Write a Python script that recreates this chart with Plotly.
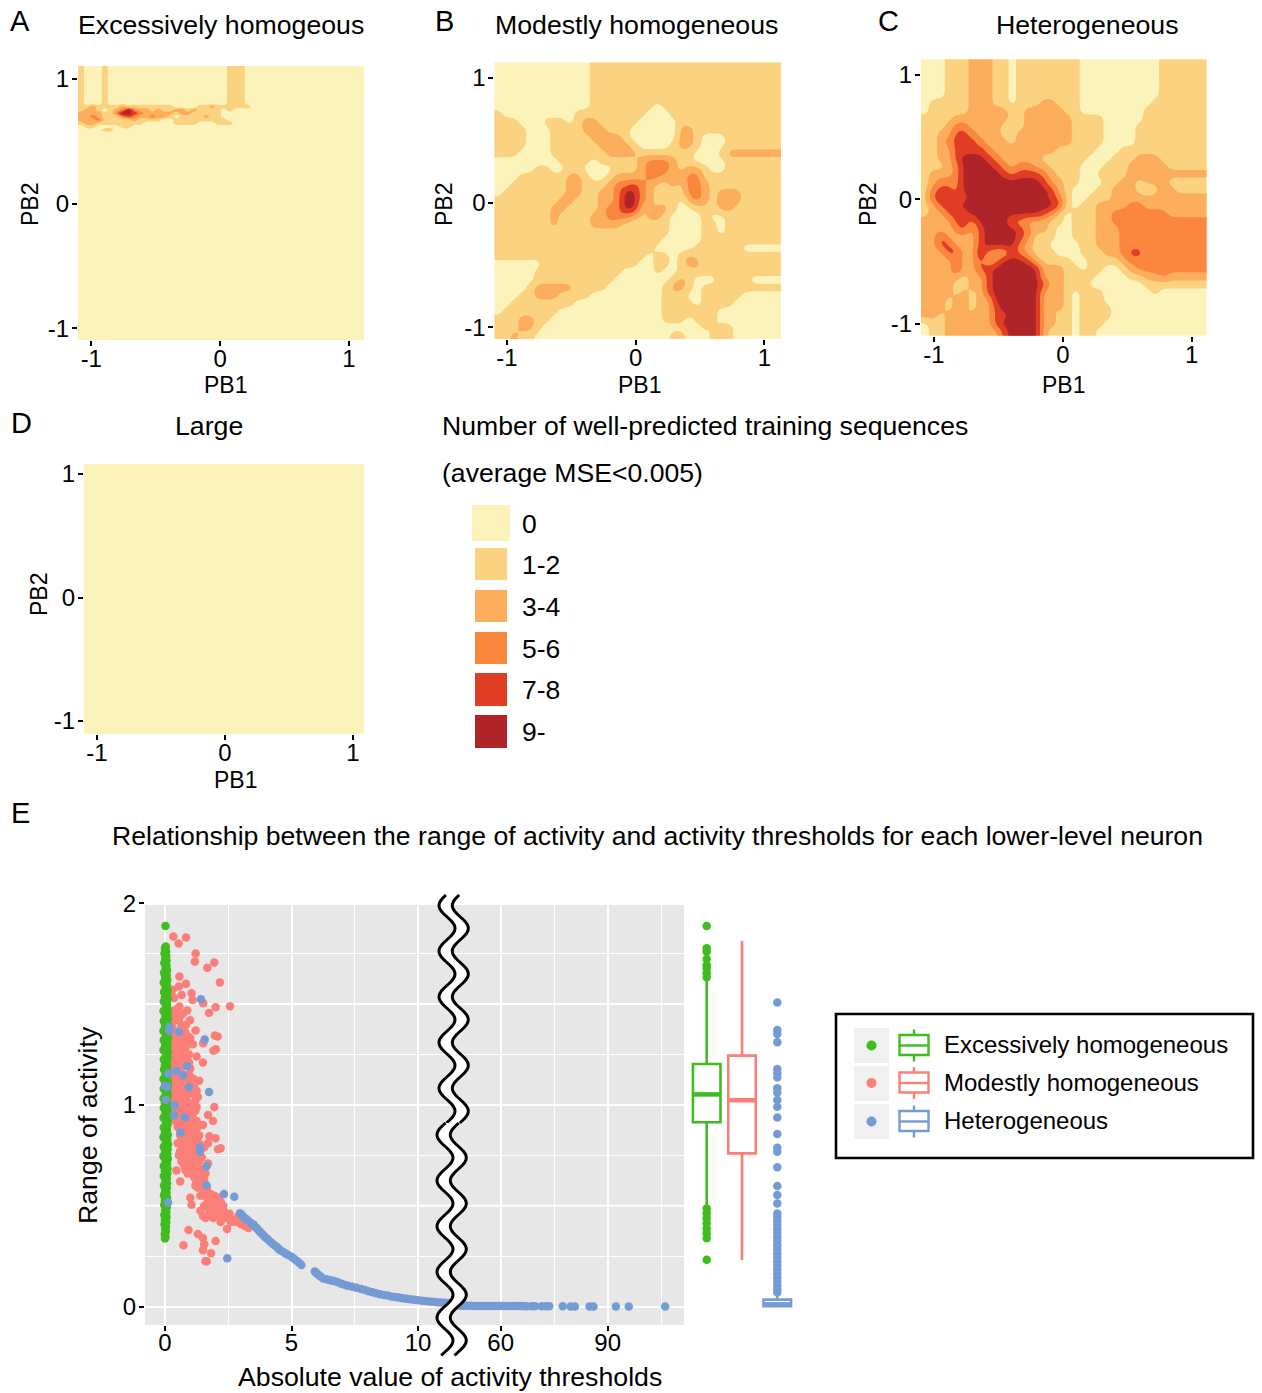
import numpy as np
import plotly.graph_objects as go

W, H = 1262, 1393
FONT = "Liberation Sans"
LEVEL_COLORS = ["#FCF3BB", "#FBD27F", "#FCAE5C", "#FB863D", "#E13C24", "#AF2429"]
LEVEL_LABELS = ["0", "1-2", "3-4", "5-6", "7-8", "9-"]
GREEN, SALMON, BLUE = "#3FBC1E", "#FB7F78", "#749BD3"
GROUP_NAMES = ["Excessively homogeneous", "Modestly homogeneous", "Heterogeneous"]

# Panel A: level map (rows top to bottom), PB2 value of each row
A_PB2 = [1.104, .833, .806, .779, .752, .726, .699, .672, .645, .618, .592, .565, -1.093]
A_ROWS = [
    "100010000000000000000000011100",
    "100010000000000000000000011100",
    "100010000000000000000000011100",
    "112111121111111100001121111110",
    "122101235322121122121111010000",
    "222211355432222212211111000000",
    "223211134322322101111211000000",
    "222311111211110011111111100000",
    "122111111110000011110001110000",
    "011000011000000000000000000000",
    "000011000000000000000000000000",
    "000000000000000000000000000000",
    "000000000000000000000000000000",
]
A_COLS = 48

B_ROWS = [
    "000000000000 111111111111111111111111",
    "000000000000 111111111111111111111111",
    "000000000000 111111111111111111111111",
    "000000000000 111111111111111111111111",
    "000000000000 111111111111111111111111",
    "000000000000 11111111 0 111111111111111",
    "1000000000 111111111 000 1 2 111111111111",
    "111000 111 0 1 22 11111 00000 1111111111111",
    "1111 00 0 1111 222 111 000000 22 11111111111",
    "1111 000 11 2 11 2222 1 000000 22 1 000 1111111",
    "1111 000 1111 11 2222 1 0000 1 22 1 000 1111111",
    "111 0000 1111111 2222 1111111 000 1 2222222",
    "00000000 1111 0 11111 23332 11 0000 1111111",
    "00000 11 00 11 0000 111 23332 1 22 1 00 1111111",
    "000 111111 22 1 00 1 2222 33 222 33 1111111111",
    "00 1111111 22 11 1 233432 11 21 332 111111111",
    "0 11111111 22 11 2235532 1111 3321 222 11111",
    "11111111 22 11 1 2235532 111 0 2321 222 11111",
    "1111111 22 1111 2335521221 00 111 22 111111",
    "1111111 2 1111 2233321221 0000 1 00 1111111",
    "1111111 2 1111 2222 111111 0000 11 0 1111111",
    "1111111111111111111111 0000 11 0 1111111",
    "111111111111111111111 00000 1111111111",
    "11111111111111111111 00000 111111 00000",
    "111111 1111111111111 0 11 0 121 1111111111",
    "000000 111111111111 00 11 0 122 1111111111",
    "00000 11111111111 0000 1 00 11111 11111111",
    "00000 1111111111 000000 0 121 000 1111 0000",
    "0000 1 22222 1111 0000000 1221 0 1111111111",
    "000 11 222 1111 000000000 111 00 11111 00000",
    "00 11111111 00000000000 1111 0 1111 000000",
    "0 1111111 0000000000000 1111111 00000000",
    "1112211 00000000000000 111 0 111 00000000",
    "111221 00000000000000000000 1 0 11 000000",
    "11211 00000000000000000 11 000 111 000000",
]

C_ROWS = [
    "000 111 222 11 0 11111111 0000000000 111111",
    "000 111 222 11 0 11111111 0000000000 111111",
    "000 111 222 11 0 11111111 0000000000 111111",
    "000 111 222 11 0 11111111 0000000000 111111",
    "000 111 222 11 0 11111111 0000000000 111111",
    "0 11111 222 11 0 111 22 111 000000000 1111111",
    "0 11111 222 22 11 22222 11 00000000 11111111",
    "1111 22222 22 11 222222 1 111 00000 11111111",
    "111 2 33 2222 111 222222 1111 0000 111111111",
    "11 22 44 3 222 11 2222222 1111 0000 111111111",
    "11 2 3 444 3 2 22 1 2222222 1111 0000 111111111",
    "11 22 4444 3 22222222 11111 000 11111111111",
    "11 22 45 55 4 3 22222 111111 000 111 222 111111",
    "111 2 3 5 55 54 3 2 33 22 1111 000 111 22222 11111",
    "1 222 3 5 555 54 3 444 3 2 111 00 1111 2222222222",
    "1 2 333 5 5555 5 555 54 22 11 000 11 22 1 222 1 1111",
    "1 3 44 3 5 5555 5 5555 5 4 2 1 000 11 222 101 22 1111",
    "1 44444 5555 5 55555 4 3 1 00 111 222 222222222",
    "1 2 444 5 5555 5 555555 4 1 0 11 2222 33 22222222",
    "1 22 444 5555 55 555 4 3 1 0 111 22 3333333 22222",
    "2222 44 3 555 5 33 222 11 0 111 22 333333333333",
    "2222 3 4 2 4 555 54 3 22 1 00 111 222 33333333333",
    "22 4 2222 4 5555 4 3 111 00 111 222 33333333333",
    "22 44 222 4 5555 3 2 11 0000 11 222 33333333333",
    "22 2 44 22 5 3 22 4 3 2 111 000 111 22 3 44 33333333",
    "22 22 3 22 4 2 3 555 4 2 1111 00 1111 2 3333333333",
    "2222 4 2 2 44 55555 5 222 11 0 11 00 1 2 333333333",
    "222 2 2 1 22 4 55555 5 222 1111 0000 11 22 3 22222",
    "222 2 1 1 2 2 4 55555 54 22 111 0000000 11111111",
    "22 2 2 1 2 1 2 4 55555 5 222 1 0 111 000000 1 000000",
    "22 2 1 2 2 1 22 55555 5 222 1 0 111 0000000000000",
    "22 2 1 2 2 1 22 4 5555 5 2 1 2 1 0 1111 000000000000",
    "2 2 1 2 2 1 222 44 555 5 22 11 0 1111 000000000000",
    "0 1 1 2 1 2222 4 5555 5 22 11 0 111 0000000000000",
    "0 1 1 2222222 4 555 52 111 0 11 00000000000000",
]

D_ROWS = ["00", "00"]

# Panel E: scatter values
green_y = [1.887, 1.785, 1.775, 1.762, 1.75, 1.738, 1.727, 1.715, 1.703, 1.69, 1.68, 1.667, 1.655, 1.642, 1.632, 1.62,
           1.607, 1.596, 1.585, 1.572, 1.56, 1.548, 1.536, 1.525, 1.512, 1.5, 1.488, 1.476, 1.465, 1.452, 1.44, 1.428,
           1.416, 1.405, 1.392, 1.38, 1.368, 1.356, 1.345, 1.332, 1.32, 1.308, 1.296, 1.285, 1.272, 1.26, 1.248, 1.236,
           1.225, 1.212, 1.2, 1.188, 1.176, 1.165, 1.152, 1.14, 1.128, 1.116, 1.105, 1.092, 1.08, 1.068, 1.056, 1.045,
           1.032, 1.02, 1.008, .996, .985, .972, .96, .948, .936, .925, .912, .9, .888, .876, .865, .852, .84, .828,
           .816, .805, .792, .78, .768, .756, .745, .732, .72, .708, .696, .685, .672, .66, .648, .636, .625, .612, .6,
           .588, .576, .565, .552, .54, .528, .516, .505, .492, .48, .468, .456, .445, .432, .42, .408, .396, .385,
           .372, .36, .348, .338, .332, .233]
green_x = [.02, .03, .0, .04, -.02, .05, .01, .06, -.03, .06, .02, .08, -.04, .07, .01, .09,
           -.05, .07, .03, .1, -.04, .09, .0, .11, -.05, .08, .04, .11, -.06, .1, .02, .12,
           -.05, .09, .0, .11, -.06, .08, .03, .12, -.05, .1, .01, .09, -.06, .11, .04, .1,
           -.05, .08, .0, .09, -.04, .07, .02, .1, -.06, .11, .01, .12, -.05, .09, .03, .11,
           -.06, .08, .0, .12, -.05, .1, .02, .09, -.06, .11, .04, .1, -.05, .08, .0, .11, -.06, .09,
           .03, .12, -.05, .1, .01, .09, -.06, .11, .02, .08, -.05, .1, .0, .09, -.05, .07, .02,
           .08, -.04, .07, .01, .06, -.04, .08, .0, .06, -.03, .07, .01, .05, -.03, .06, .0, .05, -.02,
           .04, .01, .03, -.01, .02, .0]

salmon_x = [.33, .83, .54, 1.21, 1.18, 1.95, 1.67, .57, 2.17, .83, .55, .3, 1.05, .66, 1.51, 1.09, .36, 2.57, 2.0, 1.74,
            .57, .88, .99, .39, .83, 1.21, 1.97, 2.08, .92, 1.51, 2.01, 1.91,
            .25, .4, .55, .7, .3, .45, .65, .8, 1.0, .3, .5, .7, .85, 1.1, .35, .55, .75, .95, .3, .45, .65, .85, 1.25, 1.5,
            .3, .5, .7, 1.0, .3, .45, .6, .85, 1.35, .35, .55, .75, 1.0, 1.25, .4, .6, .85, 1.15, 1.2, .45, .7, .95, 1.95,
            .45, .65, .9, 1.1, .4, .75, 1.0, 1.25, 1.7, 1.9,
            .5, .7, .95, 1.15, 1.5, .6, .85, 1.05, 1.25, .5, .75, .95, 1.2, 1.75, 2.0, 1.7, .6, .85, 1.05, 1.3, 1.55, 2.1, 2.2,
            .7, .95, 1.2, 1.45, .75, 1.0, 1.25, 1.7, .45, .9, 1.1, 1.35, 1.6,
            .6, 1.25, 1.45, 1.3, 1.55, 1.8, 1.4, 1.65, 1.95, 2.1, 2.2, 1.0, 1.05, 1.7, 1.9, 2.15, 2.35, 1.4, 1.5, 1.6, 1.75,
            1.9, 2.1, 2.4, 2.7, 3.0, 2.9, 3.3, 2.45,
            .93, 1.3, 1.5, 1.55, 2.0, .73, 1.5, 1.82, 1.6, 1.65]
salmon_y = [1.835, 1.83, 1.80, 1.75, 1.71, 1.706, 1.68, 1.636, 1.607, 1.60, 1.587, 1.57, 1.553, 1.545, 1.504, 1.52, 1.53, 1.489, 1.484, 1.455,
            1.488, 1.468, 1.42, 1.418, 1.397, 1.369, 1.344, 1.339, 1.339, 1.306, 1.276, 1.268,
            1.45, 1.47, 1.42, 1.45, 1.38, 1.36, 1.39, 1.36, 1.33, 1.32, 1.31, 1.33, 1.30, 1.30, 1.27, 1.26, 1.27, 1.25, 1.23, 1.21, 1.23, 1.24, 1.24, 1.21,
            1.18, 1.17, 1.19, 1.18, 1.13, 1.12, 1.13, 1.13, 1.12, 1.08, 1.09, 1.08, 1.10, 1.07, 1.04, 1.03, 1.04, 1.05, 1.02, 1.0, .99, 1.01, .99,
            .96, .95, .97, .96, .92, .93, .93, .92, .95, .92,
            .89, .89, .90, .88, .90, .85, .86, .85, .85, .81, .82, .81, .81, .845, .835, .81, .77, .78, .77, .77, .79, .78, .785,
            .73, .74, .73, .74, .70, .70, .70, .71, .675, .66, .67, .66, .66,
            .62, .62, .63, .59, .58, .56, .55, .54, .55, .54, .52, .54, .505, .51, .50, .48, .47, .475, .45, .44, .475,
            .44, .46, .44, .43, .41, .45, .39, .385,
            .38, .36, .34, .31, .325, .305, .28, .265, .225, .225]
salmon_dense_x = [.28, .42, .6, .35, .55, .75, .28, .42, .62, .8, .25, .4, .55, .75, .95, .25, .38, .6, .8, .4, .55, .72, .95, 1.12,
                  .28, .42, .65, .9, 1.15, .3, .5, .7, .95, 1.3, .35, .55, .8, 1.05, 1.25, .38, .55, .8, 1.0, 1.2, .5, .65, .88, 1.12,
                  1.05, .6, .85, 1.3, .7, .95, 1.15, 1.35, .65, .85, 1.08, 1.3, .7, .95, 1.15, 1.42, .55, .8, 1.05, 1.3, .65, .85, 1.1, 1.35,
                  .8, 1.0, 1.2, 1.45, 1.15, 1.35, 1.55, 1.2, 1.4, 1.65, 1.6, 1.85, 2.0, 2.3, 2.05, 1.55, 1.8, 2.0, 2.25, 2.55, 2.6, 2.2, 2.8, 3.15]
salmon_dense_y = [1.41, 1.43, 1.44, 1.34, 1.34, 1.31, 1.29, 1.28, 1.29, 1.28, 1.25, 1.24, 1.23, 1.23, 1.21, 1.2, 1.19, 1.2, 1.2, 1.15, 1.15, 1.15, 1.15, 1.13,
                  1.1, 1.09, 1.1, 1.09, 1.09, 1.05, 1.06, 1.05, 1.06, 1.04, 1.01, 1.0, 1.01, 1.0, .99, .98, .97, .97, .97, .97, .93, .92, .93, .93,
                  .9, .9, .9, .89, .86, .87, .85, .85, .82, .82, .83, .82, .79, .79, .79, .8, .75, .75, .75, .75, .72, .71, .72, .72,
                  .68, .67, .68, .68, .64, .64, .63, .6, .6, .59, .56, .53, .52, .5, .49, .5, .47, .45, .45, .46, .42, .42, .42, .4]

blue_x = [1.42, .17, .17, .55, 1.57, .88, .45, .14, .72, 0, .09, .95, 1.74, .03, .38, .36, .79, .61, 1.38, 1.39, 1.64, 1.64,
          2.33, 2.74, .12, 2.46,
          2.96, 3.02, 3.08, 3.16, 3.23, 3.3, 3.4, 3.49, 3.55, 3.62, 3.68, 3.75, 3.82, 3.88, 3.96, 4.05, 4.13, 4.21, 4.3, 4.4, 4.47, 4.54, 4.65,
          4.75, 4.87, 5.0, 5.1, 5.2, 5.3, 5.39, 5.92, 5.98, 6.05, 6.15, 6.25, 6.38, 6.5, 6.64,
          6.78, 6.9, 7.0, 7.12, 7.24, 7.4, 7.57, 7.75, 7.9, 8.05, 8.2, 8.35, 8.5, 8.65, 8.8, 8.95, 9.1, 9.25, 9.4, 9.55, 9.7, 9.85, 10.0, 10.15, 10.3, 10.45, 10.6, 10.75, 10.9, 11.05, 11.2, 11.35]
blue_y = [1.524, 1.385, 1.367, 1.362, 1.324, 1.192, 1.169, 1.155, 1.147, 1.094, 1.09, 1.088, 1.064, 1.025, .997, .949, .939, .863, .79, .769, .696, .602,
          .559, .545, .516, .24,
          .463, .457, .448, .438, .432, .425, .415, .408, .398, .39, .381, .372, .363, .355, .344, .335, .326, .317, .307, .298, .29, .281, .273,
          .265, .256, .248, .238, .228, .218, .207, .174, .167, .16, .15, .14, .136, .132, .128,
          .124, .118, .113, .108, .104, .099, .094, .088, .083, .077, .072, .067, .062, .058, .055, .051, .048, .045, .042, .039, .037, .034, .032, .03, .028, .026, .024, .022, .021, .02, .018, .016]
blue_far_x = [47.5, 48.5, 49.5, 50.5, 51.5, 52.5, 53.5, 54.5, 55.5, 56.5, 57.5, 58.5, 59.5, 60.5, 61.5, 62.5, 63.5, 64.5, 65.5, 66.5, 67.3,
              68.7, 69.6, 71.5, 72.7, 73.6, 77.4, 79.6, 80.8, 84.9, 86.0, 92.3, 95.9, 106.1]
blue_far_y = [.006, .006, .005, .005, .005, .004, .004, .004, .004, .004, .003, .003, .003, .003, .003, .003, .003, .003, .003, .002, .002,
              .002, .002, .002, .002, .002, .002, .001, .001, .001, .001, .001, .001, .001]

# Box summaries
box_pos = [0, 1, 2]
box_q1 = [0.914, 0.760, 0.002]
box_median = [1.052, 1.023, 0.015]
box_q3 = [1.203, 1.244, 0.035]
box_low = [0.496, 0.231, 0.0]
box_high = [1.62, 1.812, 0.08]
green_out = [1.886, 1.776, 1.759, 1.723, 1.693, 1.677, 1.652, 1.632, .487, .463, .438, .413, .388, .364, .339, .233]
blue_out = [1.507, 1.371, 1.351, 1.31, 1.178, 1.157, 1.137, 1.082, 1.061, 1.024, .991, .937, .856, .788, .768, .691, .598, .553, .512,
            .462, .445, .425, .405, .385, .365, .345, .325, .305, .285, .265, .245, .225, .205, .185, .165, .145, .125, .105, .085, .07]


def fx(px):
    return px / W


def fy(py):
    return 1 - py / H


def parse(rows, n=None):
    clean = [r.replace(" ", "") for r in rows]
    n = n or max(len(r) for r in clean)
    return np.array([[int(c) for c in r.ljust(n, r[-1])[:n]] for r in clean], dtype=float)


def soften(z, k=4):
    """Refine a level map and round its corners so region outlines are curved."""
    fine = np.kron(z, np.ones((k, k)))
    kernel = np.array([1, 2, 3, 4, 5, 4, 3, 2, 1], dtype=float)
    kernel /= kernel.sum()
    pad = len(kernel) // 2
    for axis in (0, 1):
        widths = [(pad, pad) if a == axis else (0, 0) for a in (0, 1)]
        padded = np.pad(fine, widths, mode="edge")
        fine = np.apply_along_axis(lambda v: np.convolve(v, kernel, mode="valid"), axis, padded)
    return fine


COLORSCALE = []
for i, c in enumerate(LEVEL_COLORS):
    COLORSCALE += [[i / 6, c], [(i + 1) / 6, c]]

fig = go.Figure()
layout = {}
shapes = []
annots = []


def text(x, y, s, size=24, anchor="center", angle=0):
    if anchor == "left":
        x -= 2
    annots.append(dict(x=fx(x), y=fy(y), xref="paper", yref="paper", text=s, showarrow=False, xanchor=anchor,
                       yanchor="middle", textangle=angle, font=dict(family=FONT, size=size, color="black")))


def range_from(p0, p1, tick_lo, tick_hi):
    scale = (tick_hi - tick_lo) / 2
    mid = (tick_hi + tick_lo) / 2
    return (p0 - mid) / scale, (p1 - mid) / scale


def tick_axis(domain, rng, standoff=-2, **kw):
    d = dict(domain=domain, range=list(rng), showgrid=False, zeroline=False, showline=False, ticks="outside", ticklen=5,
             tickwidth=1.6, tickcolor="black", tickmode="array", tickvals=[-1, 0, 1], ticktext=["-1", "0", "1"],
             ticklabelstandoff=standoff, tickfont=dict(family=FONT, size=24, color="black"))
    d.update(kw)
    return d


def panel(idx, box, xticks, yticks, rows, ys=None, ncols=None):
    x0, x1, y0, y1 = box
    xr = range_from(x0, x1, *xticks)
    yr = range_from(y1, y0, yticks[1], yticks[0])
    suffix = str(idx)
    layout["xaxis" + suffix] = tick_axis([fx(x0), fx(x1)], xr, standoff=-8, anchor="y" + suffix)
    layout["yaxis" + suffix] = tick_axis([fy(y1), fy(y0)], yr, anchor="x" + suffix)
    z = parse(rows, ncols)
    if ys is None and z.shape[0] > 2:
        z = soften(z)
    nr, nc = z.shape
    dx = (xr[1] - xr[0]) / nc
    xs = np.r_[xr[0], xr[0] + dx * (np.arange(nc) + .5), xr[1]]
    z = np.c_[z[:, 0], z, z[:, -1]]
    if ys is None:
        dy = (yr[1] - yr[0]) / nr
        yv = yr[1] - dy * (np.arange(nr) + .5)
        yv = np.r_[yr[1], yv, yr[0]]
        z = np.r_[z[:1], z, z[-1:]]
    else:
        yv = np.array(ys, dtype=float)
    z = z[::-1]
    yv = yv[::-1]
    if np.ptp(z) == 0:
        fig.add_trace(go.Heatmap(z=z, x=xs, y=yv, xaxis="x" + suffix, yaxis="y" + suffix, colorscale=COLORSCALE,
                                 zmin=-.5, zmax=5.5, showscale=False, hoverinfo="skip"))
    else:
        fig.add_trace(go.Contour(z=z, x=xs, y=yv, xaxis="x" + suffix, yaxis="y" + suffix, colorscale=COLORSCALE,
                                 zmin=-.5, zmax=5.5, autocontour=False,
                                 contours=dict(start=.5, end=4.5, size=1, coloring="fill", showlines=False),
                                 line=dict(width=0), showscale=False, hoverinfo="skip"))


panel(1, (78, 364, 66, 340), (91.3, 349), (79, 328.3), A_ROWS, ys=A_PB2, ncols=A_COLS)
panel(2, (494.3, 781, 62.3, 339), (507, 764.3), (78, 327.2), B_ROWS)
panel(3, (921, 1206.7, 59.3, 335.7), (934, 1191.7), (74.7, 323.7), C_ROWS)
panel(4, (84, 364, 464, 734), (97, 353), (474, 721), D_ROWS)

# Panel texts
for x, y, s in [(20, 21, "A"), (444, 21, "B"), (888, 21, "C"), (21, 423, "D"), (20, 813, "E")]:
    text(x, y, s, 29)
for x, y, s in [(221, 25, "Excessively homogeous"), (636, 25, "Modestly homogeneous"), (1087, 25, "Heterogeneous"), (209, 426, "Large")]:
    text(x, y, s, 26.7)
for x, y in [(225, 385), (639, 385), (1063, 385), (235, 780)]:
    text(x, y, "PB1", 23)
for x, y in [(30, 205), (444, 205), (868, 205), (39, 595)]:
    text(x, y, "PB2", 23, angle=-90)

text(442, 426, "Number of well-predicted training sequences", 26.6, "left")
text(442, 473, "(average MSE<0.005)", 26.6, "left")

key_boxes = [(472, 510, 505, 541), (475, 507, 548, 580), (475, 507, 590, 622), (475, 507, 632, 664), (475, 507, 673, 706), (475, 507, 715, 748)]
for (a, b, c, d), col, lab in zip(key_boxes, LEVEL_COLORS, LEVEL_LABELS):
    shapes.append(dict(type="rect", xref="paper", yref="paper", x0=fx(a), x1=fx(b), y0=fy(d), y1=fy(c), fillcolor=col, line=dict(width=0), layer="above"))
    text(522, (c + d) / 2 + .5, lab, 26.5, "left")

# Panel E
text(657, 836, "Relationship between the range of activity and activity thresholds for each lower-level neuron", 26.6)
text(88, 1125, "Range of activity", 26.7, angle=-90)
text(450, 1377, "Absolute value of activity thresholds", 26.7)

shapes.append(dict(type="rect", xref="paper", yref="paper", x0=fx(145), x1=fx(684), y0=fy(1325), y1=fy(905), fillcolor="#E7E7E7", line=dict(width=0), layer="below"))

E_TOP, E_BOT = 903, 1325
y_per = 201.8
y_range = [-(E_BOT - 1306.7) / y_per, (1306.7 - E_TOP) / y_per]
x_left_range = [(145 - 165) / 25.3, (455 - 165) / 25.3]
x_right_range = [60 + (455 - 500.7) / 3.567, 60 + (684 - 500.7) / 3.567]
grid_minor = lambda vals: dict(tickmode="array", tickvals=vals, showgrid=True, gridcolor="white", gridwidth=1, ticks="")

layout["xaxis5"] = tick_axis([fx(145), fx(455)], x_left_range, standoff=-9, anchor="y5", tickvals=[0, 5, 10], ticktext=["0", "5", "10"],
                             showgrid=True, gridcolor="white", gridwidth=2, minor=grid_minor([2.5, 7.5]))
layout["xaxis6"] = tick_axis([fx(455), fx(684)], x_right_range, standoff=-9, anchor="y5", tickvals=[60, 90], ticktext=["60", "90"],
                             showgrid=True, gridcolor="white", gridwidth=2, minor=grid_minor([45, 75, 105]))
layout["yaxis5"] = tick_axis([fy(E_BOT), fy(E_TOP)], y_range, anchor="x5", tickvals=[0, 1, 2], ticktext=["0", "1", "2"],
                             showgrid=True, gridcolor="white", gridwidth=2,
                             minor=grid_minor([.25, .5, .75, 1.25, 1.5, 1.75]))
layout["xaxis7"] = dict(domain=[fx(690), fx(795)], range=[(690 - 706.7) / 35.3, (795 - 706.7) / 35.3], anchor="y6", visible=False)
layout["yaxis6"] = dict(domain=[fy(E_BOT), fy(E_TOP)], range=y_range, anchor="x7", visible=False)

marker = lambda c, s=8.5: dict(color=c, size=s, line=dict(width=0))
fig.add_trace(go.Scatter(x=salmon_x + salmon_dense_x, y=salmon_y + salmon_dense_y, mode="markers", marker=marker(SALMON), xaxis="x5", yaxis="y5", hoverinfo="skip"))
fig.add_trace(go.Scatter(x=green_x, y=green_y, mode="markers", marker=marker(GREEN), xaxis="x5", yaxis="y5", hoverinfo="skip"))
fig.add_trace(go.Scatter(x=blue_x, y=blue_y, mode="markers", marker=marker(BLUE), xaxis="x5", yaxis="y5", hoverinfo="skip"))
fig.add_trace(go.Scatter(x=blue_far_x, y=blue_far_y, mode="markers", marker=marker(BLUE), xaxis="x6", yaxis="y5", hoverinfo="skip"))

for i, col in enumerate([GREEN, SALMON, BLUE]):
    fig.add_trace(go.Box(x=[box_pos[i]], q1=[box_q1[i]], median=[box_median[i]], q3=[box_q3[i]], lowerfence=[box_low[i]], upperfence=[box_high[i]],
                         width=.78, whiskerwidth=0, boxpoints=False, line=dict(color=col, width=2.6), fillcolor="white",
                         xaxis="x7", yaxis="y6", hoverinfo="skip"))
    shapes.append(dict(type="line", xref="x7", yref="y6", x0=box_pos[i] - .39, x1=box_pos[i] + .39, y0=box_median[i], y1=box_median[i],
                       line=dict(color=col, width=4.5 if i < 2 else 2.6), layer="above"))
fig.add_trace(go.Scatter(x=[box_pos[0]] * len(green_out), y=green_out, mode="markers", marker=marker(GREEN), xaxis="x7", yaxis="y6", hoverinfo="skip"))
fig.add_trace(go.Scatter(x=[box_pos[2]] * len(blue_out), y=blue_out, mode="markers", marker=marker(BLUE), xaxis="x7", yaxis="y6", hoverinfo="skip"))

# Thicker major gridlines at .5 and 1.5 in the grey panel
for v in (.5, 1.5):
    py = 1306.7 - v * y_per
    shapes.append(dict(type="line", xref="paper", yref="paper", x0=fx(145), x1=fx(684), y0=fy(py), y1=fy(py),
                       line=dict(color="white", width=2), layer="between"))


# Axis break ribbon
def wave_edge(ys, base, y_peak):
    return base + 8 * np.cos(2 * np.pi * (ys - y_peak) / 45.7)


def to_path(xs, ys, close=False):
    p = "M " + " L ".join(f"{fx(a):.5f} {fy(b):.5f}" for a, b in zip(xs, ys))
    return p + (" Z" if close else "")


for top, bot, base, peak in [(895, 1123, 447, 928.3), (1123, 1356, 445, 1157.7)]:
    ys = np.arange(top, bot + .5, 1.5)
    left = wave_edge(ys, base, peak)
    right = left + 13.3
    shapes.append(dict(type="path", xref="paper", yref="paper", path=to_path(np.r_[left, right[::-1]], np.r_[ys, ys[::-1]], True),
                       fillcolor="white", line=dict(width=0), layer="above"))
    for e in (left, right):
        shapes.append(dict(type="path", xref="paper", yref="paper", path=to_path(e, ys), line=dict(color="black", width=3), layer="above"))

# Group legend
shapes.append(dict(type="rect", xref="paper", yref="paper", x0=fx(836), x1=fx(1253), y0=fy(1158), y1=fy(1014), fillcolor="white",
                   line=dict(color="black", width=2.6), layer="above"))
for (top, bot, cy, tc), col, name in zip([(1028, 1063, 1045.5, 1044), (1066, 1101, 1083, 1082), (1104, 1139, 1121.5, 1120)], [GREEN, SALMON, BLUE], GROUP_NAMES):
    shapes.append(dict(type="rect", xref="paper", yref="paper", x0=fx(854), x1=fx(889), y0=fy(bot), y1=fy(top), fillcolor="#F0F0F0", line=dict(width=0), layer="above"))
    shapes.append(dict(type="circle", xref="paper", yref="paper", x0=fx(866.5), x1=fx(876.5), y0=fy(cy + 5), y1=fy(cy - 5), fillcolor=col, line=dict(width=0), layer="above"))
    shapes.append(dict(type="rect", xref="paper", yref="paper", x0=fx(899.5), x1=fx(928.5), y0=fy(cy + 9.5), y1=fy(cy - 10.5), fillcolor="white", line=dict(color=col, width=2.4), layer="above"))
    shapes.append(dict(type="line", xref="paper", yref="paper", x0=fx(899.5), x1=fx(928.5), y0=fy(cy), y1=fy(cy), line=dict(color=col, width=2.4), layer="above"))
    shapes.append(dict(type="line", xref="paper", yref="paper", x0=fx(914), x1=fx(914), y0=fy(cy - 10.5), y1=fy(cy - 16), line=dict(color=col, width=2.4), layer="above"))
    shapes.append(dict(type="line", xref="paper", yref="paper", x0=fx(914), x1=fx(914), y0=fy(cy + 9.5), y1=fy(cy + 16), line=dict(color=col, width=2.4), layer="above"))
    text(944, tc, name, 24, "left")

fig.update_layout(width=W, height=H, margin=dict(l=0, r=0, t=0, b=0, autoexpand=False), autosize=False, showlegend=False,
                  paper_bgcolor="white", plot_bgcolor="white", shapes=shapes, annotations=annots, **layout)
fig.write_html("out.html", post_script="document.body.style.margin='0';", config={"displayModeBar": False})
